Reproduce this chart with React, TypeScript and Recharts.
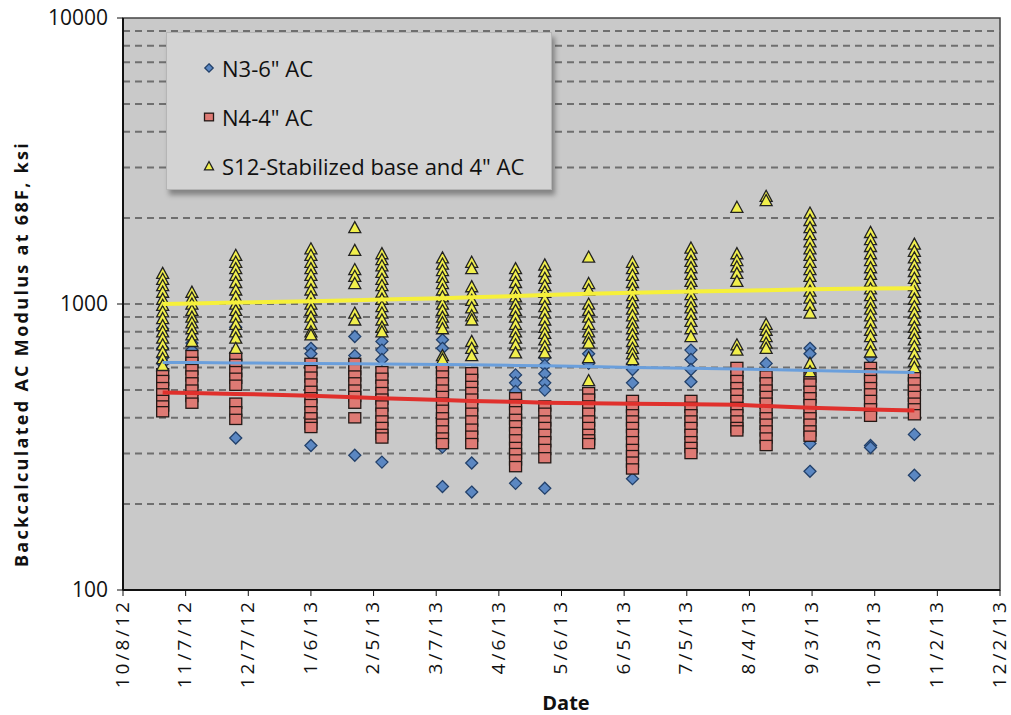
import React from "react";
import {
  ScatterChart,
  Scatter,
  XAxis,
  YAxis,
  ReferenceLine,
  ReferenceArea,
} from "recharts";

// test dates (one column of points per date)
const testDates = [
  "10/27/12", "11/10/12", "12/1/12", "1/6/13", "1/27/13", "2/9/13",
  "3/10/13", "3/24/13", "4/14/13", "4/28/13", "5/19/13", "6/9/13",
  "7/7/13", "7/29/13", "8/12/13", "9/2/13", "10/1/13", "10/22/13",
];

// N3-6" AC, backcalculated modulus (ksi)
const n3Values = [
  [820, 700, 650, 620],
  [730, 690],
  [830, 340],
  [700, 670, 320],
  [770, 660, 296],
  [740, 690, 640, 280],
  [750, 700, 316, 230],
  [278, 220],
  [565, 530, 495, 236],
  [650, 610, 570, 530, 500, 227],
  [670, 620],
  [620, 590, 530, 245],
  [690, 640, 590, 535],
  [560, 510],
  [620, 365],
  [700, 670, 325, 260],
  [650, 320, 315],
  [350, 252],
];

// N4-4" AC
const n4Values = [
  [570, 540, 510, 485, 460, 440, 420],
  [660, 625, 590, 560, 530, 500, 475, 450],
  [650, 615, 580, 550, 520, 450, 420, 395],
  [620, 585, 555, 525, 495, 470, 445, 420, 400, 380, 370],
  [620, 590, 560, 530, 500, 475, 450, 400],
  [580, 550, 520, 490, 465, 440, 415, 390, 370, 350, 340],
  [590, 560, 530, 500, 475, 450, 425, 400, 380, 360, 340, 325],
  [575, 545, 515, 490, 465, 440, 415, 390, 365, 345, 325],
  [470, 445, 420, 395, 375, 355, 335, 315, 300, 285, 270],
  [440, 415, 390, 370, 350, 330, 310, 290],
  [490, 465, 440, 415, 390, 370, 350, 335, 325],
  [460, 435, 410, 390, 370, 350, 330, 310, 295, 280, 265],
  [460, 435, 410, 390, 370, 350, 330, 315, 300],
  [600, 570, 540, 510, 485, 460, 435, 410, 390, 370, 360],
  [560, 530, 500, 475, 450, 425, 400, 380, 360, 340, 320],
  [555, 525, 495, 470, 445, 420, 400, 380, 360, 345],
  [600, 570, 540, 510, 485, 460, 430, 405],
  [560, 530, 500, 475, 450, 430, 410],
];

// S12-Stabilized base and 4" AC
const s12Values = [
  [1280, 1220, 1160, 1100, 1040, 990, 940, 890, 840, 800, 760, 720, 680, 645, 610],
  [1100, 1050, 1000, 950, 900, 860, 820, 780, 740],
  [1480, 1400, 1330, 1260, 1190, 1120, 1060, 1000, 950, 900, 850, 800, 760, 700],
  [1560, 1480, 1400, 1330, 1260, 1190, 1120, 1060, 1000, 950, 900, 850, 800, 780],
  [1850, 1540, 1320, 1250, 1180, 930, 880],
  [1500, 1430, 1360, 1290, 1220, 1160, 1100, 1040, 980, 930, 880, 830, 800],
  [1450, 1380, 1310, 1240, 1180, 1120, 1060, 1000, 950, 900, 860, 820, 660, 640],
  [1400, 1330, 1150, 1090, 1030, 970, 910, 880, 740, 700, 660],
  [1330, 1260, 1190, 1120, 1060, 1000, 950, 900, 850, 800, 760, 720, 675],
  [1370, 1300, 1230, 1160, 1100, 1040, 980, 930, 880, 830, 790, 750, 710, 675],
  [1460, 1180, 1120, 1000, 950, 900, 850, 800, 760, 730, 650, 540],
  [1400, 1330, 1260, 1190, 1130, 1070, 1010, 960, 910, 860, 820, 780, 740, 700, 670, 640],
  [1570, 1490, 1410, 1340, 1270, 1200, 1140, 1080, 1020, 970, 920, 870, 820, 770],
  [2180, 1500, 1420, 1350, 1280, 1200, 720, 690],
  [2380, 2300, 850, 810, 770, 730, 700],
  [2080, 1960, 1850, 1750, 1650, 1560, 1480, 1400, 1320, 1250, 1180, 1110, 1050, 990, 930, 620, 580],
  [1780, 1680, 1590, 1500, 1420, 1340, 1270, 1200, 1130, 1070, 1010, 960, 910, 860, 810, 770, 720, 680],
  [1620, 1530, 1450, 1370, 1300, 1230, 1160, 1100, 1040, 980, 930, 880, 830, 790, 750, 710, 670, 630, 600],
];

// running trend of each section, one value per test date
const n3Trend = [625, 624, 622, 620, 618, 617, 615, 613, 610, 608, 604, 600, 596, 592, 590, 585, 580, 576];
const n4Trend = [490, 488, 485, 478, 472, 468, 462, 458, 455, 452, 450, 448, 446, 444, 440, 434, 428, 424];
const s12Trend = [1000, 1005, 1012, 1022, 1030, 1036, 1048, 1055, 1066, 1075, 1085, 1095, 1105, 1112, 1118, 1125, 1132, 1135];

const xTicks = [0, 30, 60, 90, 120, 150, 180, 210, 240, 270, 300, 330, 360, 390, 420];
const yTicks = [100, 1000, 10000];
const gridValues = [200, 300, 400, 500, 600, 700, 800, 900, 1000, 2000, 3000, 4000, 5000, 6000, 7000, 8000, 9000];

const START = Date.UTC(2012, 9, 8);
const DAY = 86400000;

const toDay = (s: string) => {
  const [m, d, y] = s.split("/").map(Number);
  return Math.round((Date.UTC(2000 + y, m - 1, d) - START) / DAY);
};

const fmtDay = (v: number) => {
  const dt = new Date(START + v * DAY);
  return `${dt.getUTCMonth() + 1}/${dt.getUTCDate()}/${dt.getUTCFullYear() - 2000}`;
};

const flatten = (vals: number[][]) =>
  vals.flatMap((col, i) => col.map((y) => ({ x: toDay(testDates[i]), y })));

const trendData = (vals: number[]) => vals.map((y, i) => ({ x: toDay(testDates[i]), y }));

const FONT = "'Open Sans', sans-serif";

const Diamond = (p: any) => {
  const r = p.r ?? 6;
  return (
    <polygon
      points={`${p.cx},${p.cy - r} ${p.cx + r},${p.cy} ${p.cx},${p.cy + r} ${p.cx - r},${p.cy}`}
      fill="#5b87c2"
      stroke="#22406a"
      strokeWidth={1.3}
    />
  );
};

const Square = (p: any) => {
  const r = p.r ?? 6;
  return (
    <rect x={p.cx - r} y={p.cy - r * 0.85} width={2 * r} height={1.7 * r} fill="#de7a74" stroke="#231815" strokeWidth={1.3} />
  );
};

const Triangle = (p: any) => {
  const r = p.r ?? 6;
  return (
    <polygon
      points={`${p.cx},${p.cy - r} ${p.cx + r},${p.cy + r * 0.85} ${p.cx - r},${p.cy + r * 0.85}`}
      fill="#f1ef4c"
      stroke="#222"
      strokeWidth={1.3}
    />
  );
};

const NoDot = () => <g />;

const XTick = ({ x, y, payload }: any) => (
  <text
    x={x}
    y={y}
    transform={`rotate(-90 ${x} ${y})`}
    textAnchor="end"
    dy="0.3em"
    fontSize={19}
    letterSpacing={3}
    fontFamily={FONT}
    fill="#111"
  >
    {fmtDay(payload.value)}
  </text>
);

const YTitle = () => (
  <text
    x={28}
    y={354}
    transform="rotate(-90 28 354)"
    textAnchor="middle"
    fontSize={18}
    letterSpacing={2.3}
    fontWeight="bold"
    fontFamily={FONT}
    fill="#111"
  >
    Backcalculated AC Modulus at 68F, ksi
  </text>
);

const XTitle = () => (
  <text x={566} y={710} textAnchor="middle" fontSize={20} fontWeight="bold" fontFamily={FONT} fill="#111">
    Date
  </text>
);

const legendItems = [
  { label: 'N3-6" AC', shape: "diamond" },
  { label: 'N4-4" AC', shape: "square" },
  { label: 'S12-Stabilized base and 4" AC', shape: "triangle" },
];

const LegendMarker = ({ shape }: { shape: string }) => (
  <svg width={12} height={12} style={{ position: "absolute", left: 36, top: -6 }}>
    {shape === "diamond" && <Diamond cx={6} cy={6} r={4.2} />}
    {shape === "square" && <Square cx={6} cy={6} r={4.5} />}
    {shape === "triangle" && <Triangle cx={6} cy={6} r={4.5} />}
  </svg>
);

const LegendBox = () => (
  <div
    style={{
      position: "absolute",
      left: 166,
      top: 32,
      width: 386,
      height: 158,
      background: "#d3d3d3",
      border: "1px solid #b5b5b5",
      boxShadow: "3px 5px 5px rgba(0,0,0,0.35)",
      boxSizing: "border-box",
      fontFamily: FONT,
      fontSize: 22,
      color: "#111",
    }}
  >
    {legendItems.map((it, i) => (
      <div key={it.label} style={{ position: "absolute", left: 0, top: 35 + i * 49 }}>
        <LegendMarker shape={it.shape} />
        <span style={{ position: "absolute", left: 55, top: -15, whiteSpace: "nowrap", lineHeight: "30px" }}>
          {it.label}
        </span>
      </div>
    ))}
  </div>
);

export default function App() {
  return (
    <div style={{ position: "absolute", left: 0, top: 0, width: 1011, height: 715, background: "#fff" }}>
      <ScatterChart width={1011} height={715} margin={{ top: 18, right: 11, bottom: 0, left: 0 }}>
        <ReferenceArea x1={0} x2={420} y1={100} y2={10000} fill="#c9c9c9" fillOpacity={1} stroke="#444" strokeWidth={1.5} />
        {gridValues.map((v) => (
          <ReferenceLine key={v} y={v} stroke="#6f6f6f" strokeWidth={2} strokeDasharray="7 5" />
        ))}
        <XAxis
          type="number"
          dataKey="x"
          domain={[0, 420]}
          ticks={xTicks}
          interval={0}
          height={125}
          tick={<XTick />}
          tickSize={6}
          tickMargin={3}
          axisLine={{ stroke: "#111", strokeWidth: 2 }}
          tickLine={{ stroke: "#111" }}
          label={<XTitle />}
        />
        <YAxis
          type="number"
          dataKey="y"
          scale="log"
          domain={[100, 10000]}
          ticks={yTicks}
          allowDataOverflow
          width={123}
          tickSize={6}
          tickMargin={9}
          tick={{ fontSize: 21, fontFamily: FONT, fill: "#111" }}
          axisLine={{ stroke: "#111", strokeWidth: 2 }}
          tickLine={{ stroke: "#111" }}
          label={<YTitle />}
        />
        <Scatter name='N3-6" AC' data={flatten(n3Values)} shape={<Diamond />} isAnimationActive={false} />
        <Scatter name='N4-4" AC' data={flatten(n4Values)} shape={<Square />} isAnimationActive={false} />
        <Scatter name='S12-Stabilized base and 4" AC' data={flatten(s12Values)} shape={<Triangle />} isAnimationActive={false} />
        <Scatter data={trendData(n3Trend)} line={{ stroke: "#6a9fdc", strokeWidth: 3 }} shape={<NoDot />} isAnimationActive={false} />
        <Scatter data={trendData(n4Trend)} line={{ stroke: "#e0302c", strokeWidth: 4 }} shape={<NoDot />} isAnimationActive={false} />
        <Scatter data={trendData(s12Trend)} line={{ stroke: "#f6f03a", strokeWidth: 4 }} shape={<NoDot />} isAnimationActive={false} />
      </ScatterChart>
      <LegendBox />
    </div>
  );
}
